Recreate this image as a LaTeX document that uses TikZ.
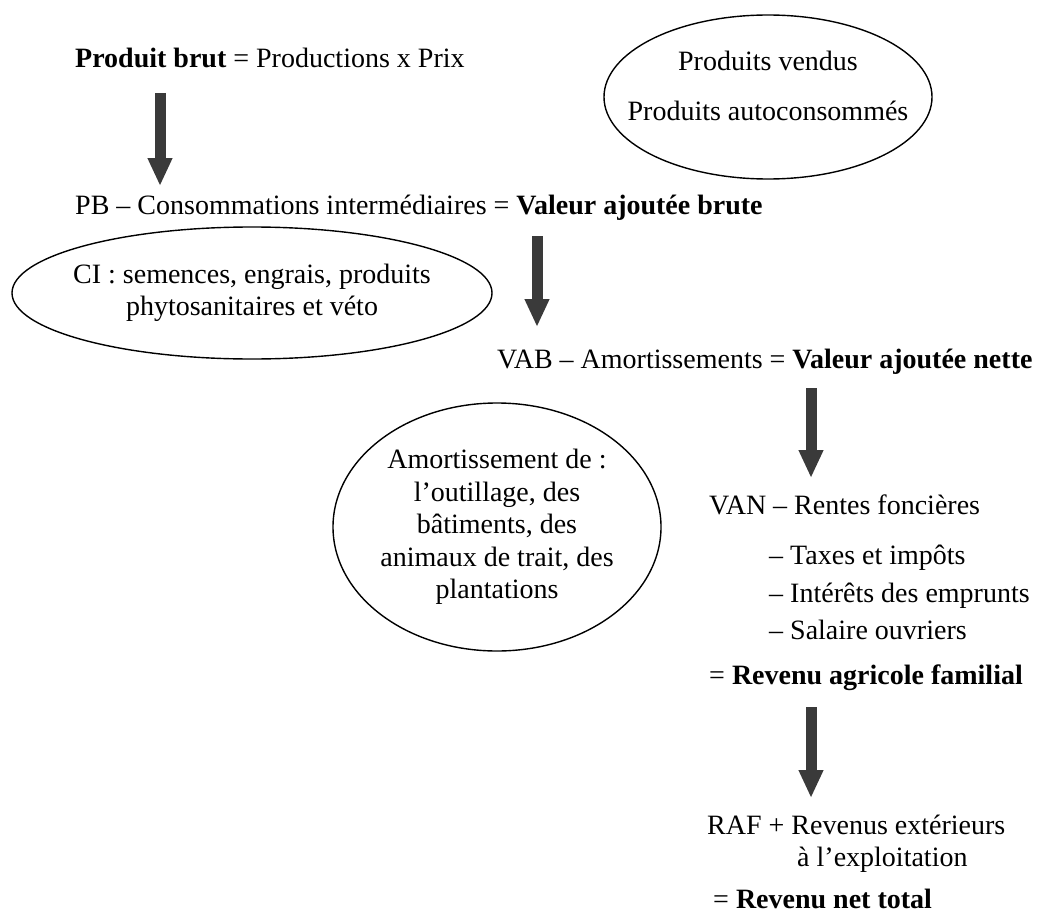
\documentclass[tikz,border=0pt]{standalone}
\usepackage{fontspec}
\setmainfont{Liberation Serif}
\usetikzlibrary{arrows.meta,positioning,shapes.geometric}
\definecolor{flechegris}{HTML}{3A3A3A}

\begin{document}
\begin{tikzpicture}[x=1pt,y=-1pt,
    font=\fontsize{28}{32.5}\selectfont,
    txt/.style={anchor=base west,inner sep=0pt},
    bulle/.style={draw,ellipse,line width=1.4pt,inner sep=0pt},
    fleche/.style={draw=flechegris,line width=11pt,-{Triangle[width=23pt,length=28pt]}}]
    \useasboundingbox (0,0) rectangle (1043,915);

    \node[txt] (pb)  at (75,68)  {\textbf{Produit brut} = Productions x Prix};
    \node[bulle,minimum width=328pt,minimum height=164pt] (vente) at (768,97) {};
    \node[align=center] (venteTxt) at (768,86) {Produits vendus\\[17pt]Produits autoconsommés};

    \node[txt] (vab) at (75,214) {PB – Consommations intermédiaires = \textbf{Valeur ajoutée brute}};
    \node[bulle,minimum width=480pt,minimum height=132pt] (ci) at (252,293) {};
    \node[align=center] (ciTxt) at (ci) {CI : semences, engrais, produits\\phytosanitaires et véto};

    \node[txt] (van) at (497,368) {VAB – Amortissements = \textbf{Valeur ajoutée nette}};
    \node[bulle,minimum width=328pt,minimum height=248pt] (amort) at (497,527) {};
    \node[align=center] (amortTxt) at (amort) {Amortissement de :\\l’outillage, des\\bâtiments, des\\animaux de trait, des\\plantations};

    \node[txt] (rentes)   at (709,514) {VAN – Rentes foncières};
    \node[txt] (taxes)    at (769,564) {– Taxes et impôts};
    \node[txt] (interets) [below=38pt of taxes.base west,anchor=base west]    {– Intérêts des emprunts};
    \node[txt] (salaire)  [below=37pt of interets.base west,anchor=base west] {– Salaire ouvriers};
    \node[txt] (raf) at (709,684) {= \textbf{Revenu agricole familial}};

    \node[txt] (ext)  at (707,834) {RAF + Revenus extérieurs};
    \node[txt] (expl) at (797,866) {à l’exploitation};
    \node[txt] (rnt)  at (713,908) {= \textbf{Revenu net total}};

    \coordinate (f1a) at (160,93);  \coordinate (f1b) at (160,186);
    \coordinate (f2a) at (537,236); \coordinate (f2b) at (537,327);
    \coordinate (f3a) at (811,388); \coordinate (f3b) at (811,478);
    \coordinate (f4a) at (811,707); \coordinate (f4b) at (811,798);
    \draw[fleche] (f1a) -- (f1b);
    \draw[fleche] (f2a) -- (f2b);
    \draw[fleche] (f3a) -- (f3b);
    \draw[fleche] (f4a) -- (f4b);
\end{tikzpicture}
\end{document}
